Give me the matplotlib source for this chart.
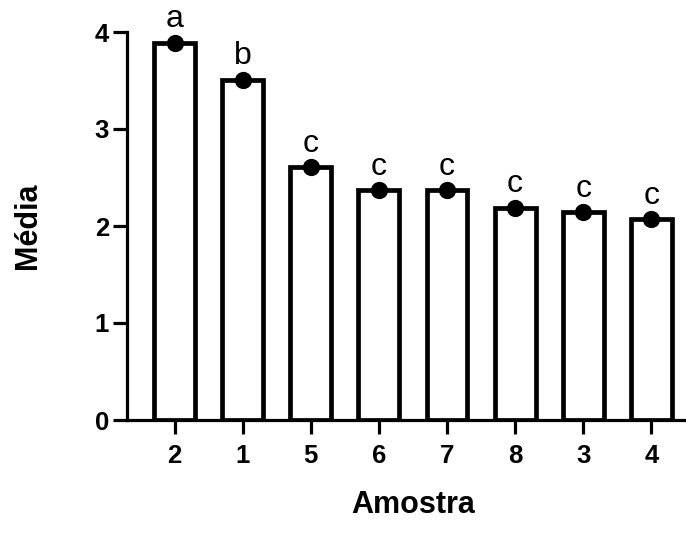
import matplotlib
matplotlib.use("Agg")
import matplotlib.pyplot as plt

# Data
amostras = ["2", "1", "5", "6", "7", "8", "3", "4"]
medias = [3.89, 3.51, 2.61, 2.37, 2.37, 2.19, 2.14, 2.07]
letras = ["a", "b", "c", "c", "c", "c", "c", "c"]

plt.rcParams["font.family"] = ["Liberation Sans", "DejaVu Sans"]

fig = plt.figure(figsize=(6.86, 5.33), dpi=100)
ax = fig.add_axes([127 / 686, 113 / 533, 559 / 686, 388 / 533])

pos = list(range(len(amostras)))
ax.bar(pos, medias, width=0.6, color="white", edgecolor="black", linewidth=3.4, zorder=2)
ax.scatter(pos, medias, s=130, color="black", zorder=3)

for x, y, l in zip(pos, medias, letras):
    ax.annotate(l, (x, y), xytext=(0, 11), textcoords="offset points",
                ha="center", va="baseline", fontsize=23)

ax.set_xlim(-0.70, 7.51)
ax.set_ylim(0, 4)
ax.set_xticks(pos)
ax.set_xticklabels(amostras, fontsize=18.5, fontweight="bold")
ax.set_yticks([0, 1, 2, 3, 4])
ax.set_yticklabels(["0", "1", "2", "3", "4"], fontsize=18.5, fontweight="bold")

for s in ["top", "right"]:
    ax.spines[s].set_visible(False)
for s in ["left", "bottom"]:
    ax.spines[s].set_linewidth(2.3)

ax.tick_params(axis="both", direction="out", length=10, width=2.3)
ax.tick_params(axis="x", pad=7)
ax.tick_params(axis="y", pad=3)

ax.set_xlabel("Amostra", fontsize=22, fontweight="bold")
ax.xaxis.set_label_coords((3.5 + 0.70) / 8.21, -0.18)
ax.set_ylabel("Média", fontsize=22, fontweight="bold", labelpad=37)

fig.savefig("out.png", dpi=100)
